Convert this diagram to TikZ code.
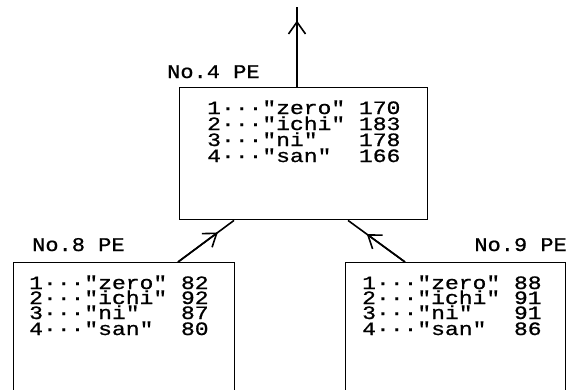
\documentclass[tikz,border=0pt]{standalone}
\usepackage{fontspec}
\newfontfamily\pefont{Liberation Mono}[FakeBold=0.8]
\usetikzlibrary{arrows.meta,calc}
\newcommand{\dd}{···}
\newcommand{\tall}[1]{\scalebox{1}[0.82]{#1}}
\newcommand{\lab}[1]{\scalebox{1}[0.88]{#1}}
\begin{document}
\begin{tikzpicture}[x=1pt,y=-1pt,
  pebox/.style={draw,line width=1.4pt,inner sep=0pt,anchor=north west},
  petext/.style={font=\pefont\fontsize{23}{26}\selectfont,anchor=base west,inner sep=0pt},
  pelabel/.style={font=\pefont\fontsize{22}{26}\selectfont,inner sep=0pt},
  link/.style={line width=1.6pt},
  tipline/.style={line width=1.6pt,-{Straight Barb[length=12pt,width=17pt,line width=1.6pt]}}]
\clip (0,0) rectangle (576,389);
\fill[white] (0,0) rectangle (576,389);
% boxes
\node[pebox,minimum width=248pt,minimum height=132pt] (pe4) at (179,87) {};
\node[pebox,minimum width=221pt,minimum height=150pt] (pe8) at (13,262) {};
\node[pebox,minimum width=220pt,minimum height=150pt] (pe9) at (345,262) {};
% labels
\node[pelabel,anchor=base west] (l4) at (167,78) {\lab{No.4 PE}};
\node[pelabel,anchor=base west] (l8) at (32,251) {\lab{No.8 PE}};
\node[pelabel,anchor=base east] (l9) at (567,251) {\lab{No.9 PE}};
% contents of No.4
\node[petext] (t4a) at (207,114) {\tall{1\dd"zero"~170}};
\node[petext] (t4b) at (207,130) {\tall{2\dd"ichi"~183}};
\node[petext] (t4c) at (207,146) {\tall{3\dd"ni"~~~178}};
\node[petext] (t4d) at (207,162) {\tall{4\dd"san"~~166}};
% contents of No.8
\node[petext] (t8a) at (29,289) {\tall{1\dd"zero"~82}};
\node[petext] (t8b) at (29,304) {\tall{2\dd"ichi"~92}};
\node[petext] (t8c) at (29,319) {\tall{3\dd"ni"~~~87}};
\node[petext] (t8d) at (29,335) {\tall{4\dd"san"~~80}};
% contents of No.9
\node[petext] (t9a) at (362,289) {\tall{1\dd"zero"~88}};
\node[petext] (t9b) at (362,304) {\tall{2\dd"ichi"~91}};
\node[petext] (t9c) at (362,319) {\tall{3\dd"ni"~~~91}};
\node[petext] (t9d) at (362,335) {\tall{4\dd"san"~~86}};
% connectors
\coordinate (a4) at ($(pe4.north west)+(118,0)$);
\coordinate (up) at (297,7);
\draw[link] (a4) -- (up);
\draw[tipline] (a4) -- ($(a4)!0.83!(up)$);
\coordinate (s8) at ($(pe8.north west)+(165,0)$);
\coordinate (d8) at ($(pe4.south west)+(55,0)$);
\draw[link] (s8) -- (d8);
\draw[tipline] (s8) -- ($(s8)!0.71!(d8)$);
\coordinate (s9) at ($(pe9.north west)+(60,0)$);
\coordinate (d9) at ($(pe4.south west)+(169,0)$);
\draw[link] (s9) -- (d9);
\draw[tipline] (s9) -- ($(s9)!0.67!(d9)$);
\end{tikzpicture}
\end{document}
